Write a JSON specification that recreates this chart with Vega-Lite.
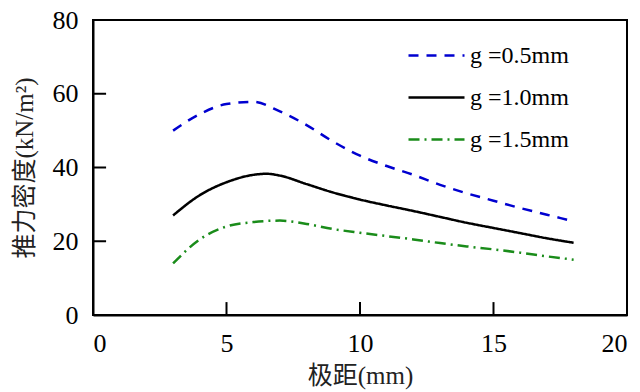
{
  "$schema": "https://vega.github.io/schema/vega-lite/v6.json",
  "autosize": {"type": "none"},
  "width": 534,
  "height": 295,
  "padding": {"left": 93, "top": 20, "right": 13, "bottom": 77},
  "background": "white",
  "config": {
    "view": {"stroke": "black", "strokeWidth": 2}
  },
  "layer": [
    {
      "data": {
        "values": [
          {"x": 3, "y": 50, "s": "g =0.5mm"},
          {"x": 4, "y": 54.5, "s": "g =0.5mm"},
          {"x": 5, "y": 57.2, "s": "g =0.5mm"},
          {"x": 6, "y": 57.8, "s": "g =0.5mm"},
          {"x": 7, "y": 55.2, "s": "g =0.5mm"},
          {"x": 8, "y": 51.5, "s": "g =0.5mm"},
          {"x": 9, "y": 47, "s": "g =0.5mm"},
          {"x": 10, "y": 43.2, "s": "g =0.5mm"},
          {"x": 11, "y": 40.4, "s": "g =0.5mm"},
          {"x": 12, "y": 38, "s": "g =0.5mm"},
          {"x": 13, "y": 35.3, "s": "g =0.5mm"},
          {"x": 14, "y": 33, "s": "g =0.5mm"},
          {"x": 15, "y": 31, "s": "g =0.5mm"},
          {"x": 16, "y": 29, "s": "g =0.5mm"},
          {"x": 17, "y": 27.2, "s": "g =0.5mm"},
          {"x": 18, "y": 25.4, "s": "g =0.5mm"},
          {"x": 3, "y": 27, "s": "g =1.0mm"},
          {"x": 4, "y": 32.5, "s": "g =1.0mm"},
          {"x": 5, "y": 36, "s": "g =1.0mm"},
          {"x": 6, "y": 38, "s": "g =1.0mm"},
          {"x": 6.5, "y": 38.3, "s": "g =1.0mm"},
          {"x": 7, "y": 37.8, "s": "g =1.0mm"},
          {"x": 8, "y": 35.5, "s": "g =1.0mm"},
          {"x": 9, "y": 33.2, "s": "g =1.0mm"},
          {"x": 10, "y": 31.3, "s": "g =1.0mm"},
          {"x": 11, "y": 29.7, "s": "g =1.0mm"},
          {"x": 12, "y": 28.2, "s": "g =1.0mm"},
          {"x": 13, "y": 26.6, "s": "g =1.0mm"},
          {"x": 14, "y": 25, "s": "g =1.0mm"},
          {"x": 15, "y": 23.6, "s": "g =1.0mm"},
          {"x": 16, "y": 22.2, "s": "g =1.0mm"},
          {"x": 17, "y": 20.8, "s": "g =1.0mm"},
          {"x": 18, "y": 19.6, "s": "g =1.0mm"},
          {"x": 3, "y": 14, "s": "g =1.5mm"},
          {"x": 4, "y": 20.5, "s": "g =1.5mm"},
          {"x": 5, "y": 24, "s": "g =1.5mm"},
          {"x": 6, "y": 25.2, "s": "g =1.5mm"},
          {"x": 7, "y": 25.6, "s": "g =1.5mm"},
          {"x": 8, "y": 24.7, "s": "g =1.5mm"},
          {"x": 9, "y": 23.3, "s": "g =1.5mm"},
          {"x": 10, "y": 22.3, "s": "g =1.5mm"},
          {"x": 11, "y": 21.4, "s": "g =1.5mm"},
          {"x": 12, "y": 20.5, "s": "g =1.5mm"},
          {"x": 13, "y": 19.5, "s": "g =1.5mm"},
          {"x": 14, "y": 18.6, "s": "g =1.5mm"},
          {"x": 15, "y": 17.8, "s": "g =1.5mm"},
          {"x": 16, "y": 16.9, "s": "g =1.5mm"},
          {"x": 17, "y": 15.9, "s": "g =1.5mm"},
          {"x": 18, "y": 15, "s": "g =1.5mm"}
        ]
      },
      "mark": {"type": "line", "interpolate": "monotone", "strokeWidth": 2.5},
      "encoding": {
        "x": {
          "field": "x", "type": "quantitative",
          "scale": {"domain": [0, 20], "nice": false},
          "axis": {
            "values": [0, 5, 10, 15, 20], "title": "极距(mm)",
            "grid": false, "ticks": false,
            "domainColor": "black", "domainWidth": 2,
            "labelFont": "Liberation Serif", "labelFontSize": 26, "labelColor": "black",
            "labelPadding": 15,
            "titleFont": "Liberation Serif, Noto Sans CJK SC", "titleFontSize": 25,
            "titleFontWeight": "normal", "titleColor": "#222222", "titlePadding": 7
          }
        },
        "y": {
          "field": "y", "type": "quantitative",
          "scale": {"domain": [0, 80], "nice": false},
          "axis": {
            "values": [0, 20, 40, 60, 80], "title": "推力密度(kN/m²)",
            "grid": false, "ticks": false,
            "domainColor": "black", "domainWidth": 2,
            "labelFont": "Liberation Serif", "labelFontSize": 26, "labelColor": "black",
            "labelPadding": 15,
            "titleFont": "Liberation Serif, Noto Sans CJK SC", "titleFontSize": 25,
            "titleFontWeight": "normal", "titleColor": "#222222", "titlePadding": 15
          }
        },
        "color": {
          "field": "s", "type": "nominal",
          "scale": {"domain": ["g =0.5mm", "g =1.0mm", "g =1.5mm"], "range": ["#0000d0", "#000000", "#1a8c1a"]},
          "legend": {
            "title": null,
            "orient": "none",
            "legendX": 314,
            "legendY": 6,
            "padding": 0,
            "symbolType": "stroke",
            "symbolSize": 3136,
            "symbolStrokeWidth": 2.5,
            "labelFont": "Liberation Serif",
            "labelFontSize": 24,
            "labelColor": "black",
            "labelOffset": 4,
            "rowPadding": -37
          }
        },
        "strokeDash": {
          "field": "s", "type": "nominal",
          "scale": {"domain": ["g =0.5mm", "g =1.0mm", "g =1.5mm"], "range": [[10, 8], [1, 0], [11, 5, 2, 5]]},
          "legend": {
            "title": null,
            "orient": "none",
            "legendX": 314,
            "legendY": 6,
            "padding": 0,
            "symbolType": "stroke",
            "symbolSize": 3136,
            "symbolStrokeWidth": 2.5,
            "labelFont": "Liberation Serif",
            "labelFontSize": 24,
            "labelColor": "black",
            "labelOffset": 4,
            "rowPadding": -37
          }
        }
      }
    },
    {
      "data": {"values": [{"x": 5}, {"x": 10}, {"x": 15}]},
      "mark": {"type": "rule", "strokeWidth": 2, "color": "black"},
      "encoding": {
        "x": {"field": "x", "type": "quantitative"},
        "y": {"datum": 0, "type": "quantitative"},
        "y2": {"datum": 3.5}
      }
    },
    {
      "data": {"values": [{"y": 20}, {"y": 40}, {"y": 60}]},
      "mark": {"type": "rule", "strokeWidth": 2, "color": "black"},
      "encoding": {
        "y": {"field": "y", "type": "quantitative"},
        "x": {"datum": 0, "type": "quantitative"},
        "x2": {"datum": 0.49}
      }
    }
  ]
}
